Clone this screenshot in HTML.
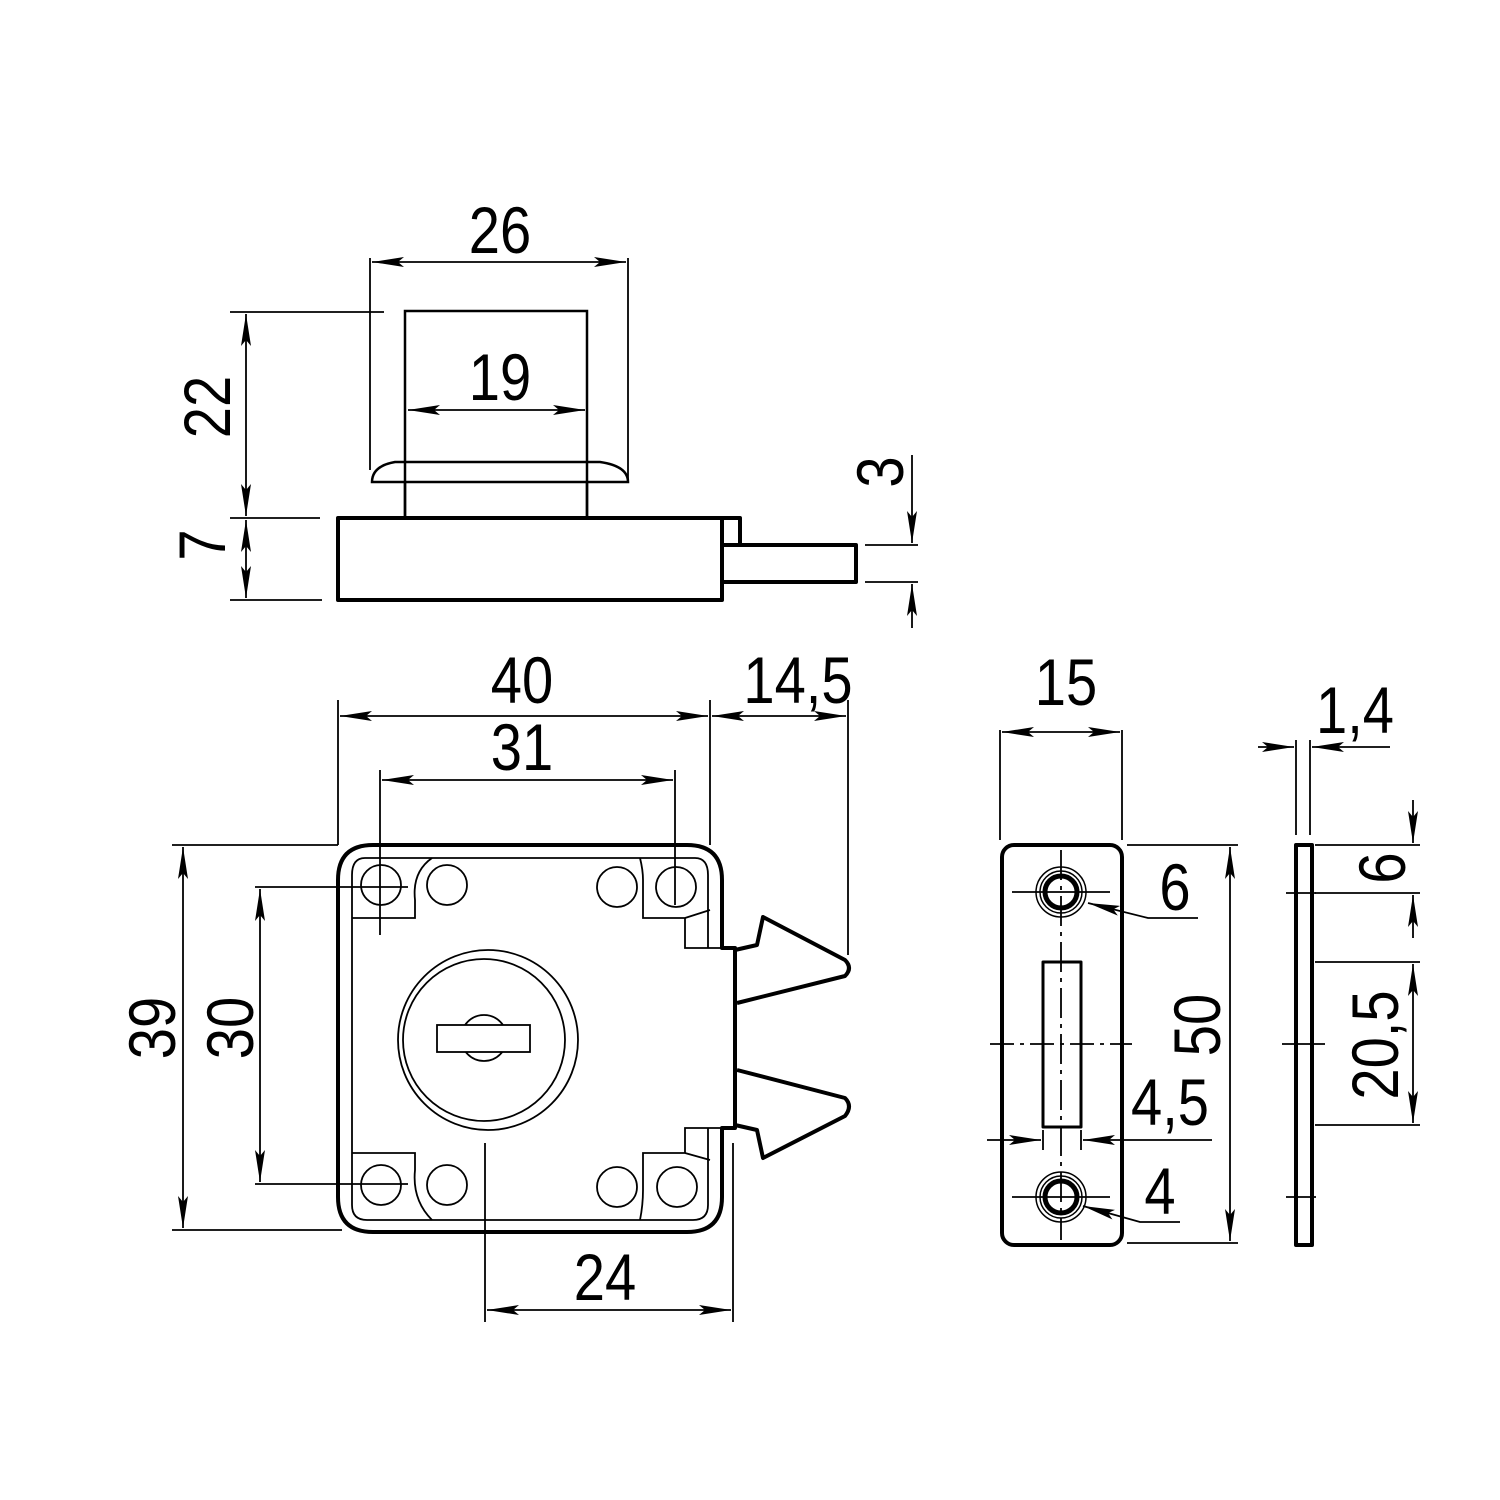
<!DOCTYPE html>
<html><head><meta charset="utf-8"><style>html,body{margin:0;padding:0;background:#fff}svg{display:block}</style></head>
<body>
<svg width="1500" height="1500" viewBox="0 0 1500 1500" xmlns="http://www.w3.org/2000/svg" font-family="'Liberation Sans Narrow','Liberation Sans',sans-serif" font-size="66" fill="none" stroke="#000">
<defs>
<marker id="a" viewBox="0 0 32 10" refX="32" refY="5" markerWidth="32" markerHeight="10" markerUnits="userSpaceOnUse" orient="auto-start-reverse"><path d="M0,0 L32,5 L0,10 L6,5 Z" fill="#000" stroke="none"/></marker>
</defs>
<g stroke-width="1.8">
<line x1="370" y1="258" x2="370" y2="470"/><line x1="628" y1="258" x2="628" y2="480"/>
<line x1="372" y1="262" x2="626" y2="262" marker-start="url(#a)" marker-end="url(#a)"/>
<line x1="408" y1="410" x2="585" y2="410" marker-start="url(#a)" marker-end="url(#a)"/>
<line x1="230" y1="312" x2="384" y2="312"/><line x1="230" y1="518" x2="320" y2="518"/><line x1="230" y1="600" x2="322" y2="600"/>
<line x1="246" y1="314" x2="246" y2="516" marker-start="url(#a)" marker-end="url(#a)"/>
<line x1="246" y1="520" x2="246" y2="598" marker-start="url(#a)" marker-end="url(#a)"/>
<line x1="865" y1="545" x2="918" y2="545"/><line x1="865" y1="582" x2="918" y2="582"/>
<line x1="912" y1="455" x2="912" y2="543" marker-end="url(#a)"/>
<line x1="912" y1="628" x2="912" y2="584" marker-end="url(#a)"/>
<line x1="338" y1="700" x2="338" y2="845"/><line x1="710" y1="700" x2="710" y2="845"/><line x1="848" y1="700" x2="848" y2="955"/>
<line x1="340" y1="716" x2="708" y2="716" marker-start="url(#a)" marker-end="url(#a)"/>
<line x1="712" y1="716" x2="846" y2="716" marker-start="url(#a)" marker-end="url(#a)"/>
<line x1="380" y1="770" x2="380" y2="935"/><line x1="675" y1="770" x2="675" y2="905"/>
<line x1="382" y1="780" x2="673" y2="780" marker-start="url(#a)" marker-end="url(#a)"/>
<line x1="172" y1="845" x2="338" y2="845"/><line x1="172" y1="1230" x2="342" y2="1230"/>
<line x1="183" y1="847" x2="183" y2="1228" marker-start="url(#a)" marker-end="url(#a)"/>
<line x1="255" y1="887" x2="408" y2="887"/><line x1="255" y1="1184" x2="408" y2="1184"/>
<line x1="260" y1="889" x2="260" y2="1182" marker-start="url(#a)" marker-end="url(#a)"/>
<line x1="485" y1="1143" x2="485" y2="1322"/><line x1="733" y1="1143" x2="733" y2="1322"/>
<line x1="487" y1="1310" x2="731" y2="1310" marker-start="url(#a)" marker-end="url(#a)"/>
<line x1="1000" y1="730" x2="1000" y2="840"/><line x1="1122" y1="730" x2="1122" y2="840"/>
<line x1="1002" y1="732" x2="1120" y2="732" marker-start="url(#a)" marker-end="url(#a)"/>
<line x1="1127" y1="845" x2="1238" y2="845"/><line x1="1127" y1="1243" x2="1238" y2="1243"/>
<line x1="1230" y1="847" x2="1230" y2="1241" marker-start="url(#a)" marker-end="url(#a)"/>
<line x1="987" y1="1140" x2="1041" y2="1140" marker-end="url(#a)"/>
<line x1="1212" y1="1140" x2="1083" y2="1140" marker-end="url(#a)"/>
<line x1="1043" y1="1130" x2="1043" y2="1150"/><line x1="1081" y1="1130" x2="1081" y2="1150"/>
<path d="M1198,918 L1148,918 L1088,903" marker-end="url(#a)"/>
<path d="M1180,1222 L1140,1222 L1083,1206" marker-end="url(#a)"/>
<line x1="1296" y1="740" x2="1296" y2="835"/><line x1="1310" y1="740" x2="1310" y2="835"/>
<line x1="1258" y1="747" x2="1294" y2="747" marker-end="url(#a)"/>
<line x1="1390" y1="747" x2="1312" y2="747" marker-end="url(#a)"/>
<line x1="1315" y1="845" x2="1420" y2="845"/><line x1="1315" y1="893" x2="1420" y2="893"/>
<line x1="1413" y1="800" x2="1413" y2="843" marker-end="url(#a)"/>
<line x1="1413" y1="938" x2="1413" y2="895" marker-end="url(#a)"/>
<line x1="1315" y1="962" x2="1420" y2="962"/><line x1="1315" y1="1125" x2="1420" y2="1125"/>
<line x1="1413" y1="964" x2="1413" y2="1123" marker-start="url(#a)" marker-end="url(#a)"/>
<line x1="1061" y1="850" x2="1061" y2="1240" stroke-dasharray="30,6,4,6"/>
<line x1="1012" y1="892" x2="1110" y2="892"/><line x1="1012" y1="1197" x2="1110" y2="1197"/>
<line x1="990" y1="1044" x2="1132" y2="1044" stroke-dasharray="24,6,4,6"/>
<line x1="1282" y1="1044" x2="1325" y2="1044"/><line x1="1286" y1="893" x2="1316" y2="893"/><line x1="1286" y1="1197" x2="1316" y2="1197"/>
<path d="M365,858 H695 Q708,858 708,875 V948 M365,858 Q352,858 352,875 V1205 Q352,1220 367,1220 H693 Q708,1220 708,1205 V1128"/>
<path d="M352,918 H415 V900 Q412,872 432,858"/><path d="M352,1153 H415 V1170 Q412,1200 432,1220"/>
<path d="M640,858 Q643,870 643,880 V918 H685 V948 H722 M685,918 L710,910"/>
<path d="M640,1220 Q643,1205 643,1190 V1153 H685 V1128 H722 M685,1153 L710,1160"/>
<circle cx="381" cy="885" r="20"/><circle cx="447" cy="885" r="20"/><circle cx="617" cy="887" r="20"/><circle cx="676" cy="887" r="20"/>
<circle cx="381" cy="1185" r="20"/><circle cx="447" cy="1185" r="20"/><circle cx="617" cy="1187" r="20"/><circle cx="677" cy="1187" r="20"/>
<circle cx="488" cy="1040" r="90"/><circle cx="484" cy="1040" r="81"/>
<circle cx="484" cy="1038" r="23"/>
<rect x="437" y="1025" width="93" height="27" fill="#fff"/>
<rect x="405" y="311" width="182" height="207" fill="none" stroke-width="2.5"/>
<path d="M372,482 Q372,466 395,462 H600 Q628,466 628,482 Z" fill="#fff" stroke-width="2.5"/>
<line x1="405" y1="462" x2="405" y2="518" stroke-width="2.5"/><line x1="587" y1="462" x2="587" y2="518" stroke-width="2.5"/>
</g>
<g stroke-width="4" stroke-linejoin="round">
<rect x="338" y="518" width="384" height="82"/>
<path d="M722,518 H740 V545 M722,545 H856 V582 H722"/>
<path d="M735,948 H722 V880 Q722,845 687,845 H373 Q338,845 338,880 V1197 Q338,1232 373,1232 H687 Q722,1232 722,1197 V1128 H735 Z"/>
<path d="M735,950 L757,945 L763,917 L845,960 Q853,968 845,976 L737,1003"/>
<path d="M737,1070 L845,1098 Q853,1106 845,1116 L763,1158 L757,1130 L735,1125"/>
<rect x="1002" y="845" width="120" height="400" rx="12"/>
<rect x="1043" y="962" width="38" height="165" stroke-width="3"/>
<circle cx="1061" cy="892" r="16" stroke-width="5"/><circle cx="1061" cy="1197" r="16" stroke-width="5"/>
<rect x="1296" y="845" width="16" height="400"/>
</g>
<g stroke-width="1.5"><circle cx="1061" cy="892" r="25"/><circle cx="1061" cy="1197" r="25"/><circle cx="1061" cy="892" r="21"/><circle cx="1061" cy="1197" r="21"/></g>
<g fill="#000" stroke="none" text-anchor="middle">
<text transform="translate(500,253) scale(0.85,1)">26</text>
<text transform="translate(500,400) scale(0.85,1)">19</text>
<text transform="translate(522,703) scale(0.85,1)">40</text>
<text transform="translate(798,703) scale(0.85,1)">14,5</text>
<text transform="translate(522,770) scale(0.85,1)">31</text>
<text transform="translate(605,1300) scale(0.85,1)">24</text>
<text transform="translate(1066,705) scale(0.85,1)">15</text>
<text transform="translate(1175,910) scale(0.85,1)">6</text>
<text transform="translate(1160,1214) scale(0.85,1)">4</text>
<text transform="translate(1170,1125) scale(0.85,1)">4,5</text>
<text transform="translate(1355,733) scale(0.85,1)">1,4</text>
<text transform="translate(230,407) rotate(-90) scale(0.85,1)">22</text>
<text transform="translate(225,545) rotate(-90) scale(0.85,1)">7</text>
<text transform="translate(903,472) rotate(-90) scale(0.85,1)">3</text>
<text transform="translate(175,1028) rotate(-90) scale(0.85,1)">39</text>
<text transform="translate(253,1028) rotate(-90) scale(0.85,1)">30</text>
<text transform="translate(1220,1025) rotate(-90) scale(0.85,1)">50</text>
<text transform="translate(1405,868) rotate(-90) scale(0.85,1)">6</text>
<text transform="translate(1398,1045) rotate(-90) scale(0.85,1)">20,5</text>
</g>
</svg>
</body></html>
